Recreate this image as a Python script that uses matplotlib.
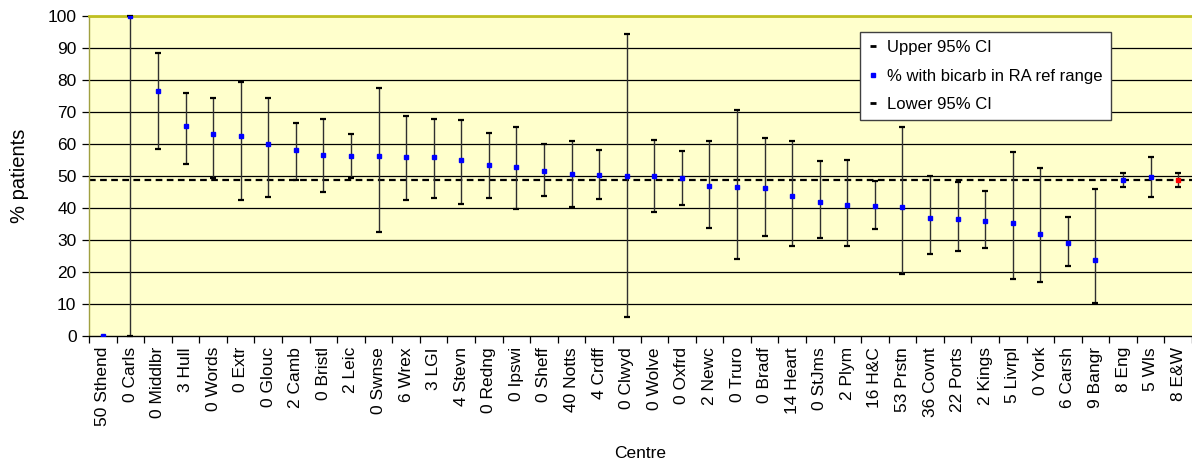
import matplotlib
matplotlib.use("Agg")
import matplotlib.pyplot as plt
from matplotlib.lines import Line2D

plt.rcParams['font.family'] = ['Liberation Sans', 'DejaVu Sans']

centres = ["50 Sthend", "0 Carls", "0 Middlbr", "3 Hull", "0 Words", "0 Extr", "0 Glouc",
           "2 Camb", "0 Bristl", "2 Leic", "0 Swnse", "6 Wrex", "3 LGI", "4 Stevn",
           "0 Redng", "0 Ipswi", "0 Sheff", "40 Notts", "4 Crdff", "0 Clwyd", "0 Wolve",
           "0 Oxfrd", "2 Newc", "0 Truro", "0 Bradf", "14 Heart", "0 StJms", "2 Plym",
           "16 H&C", "53 Prstn", "36 Covnt", "22 Ports", "2 Kings", "5 Livrpl", "0 York",
           "6 Carsh", "9 Bangr", "8 Eng", "5 Wls", "8 E&W"]
pct = [0, 100, 76.7, 65.6, 63.0, 62.4, 59.9, 58.0, 56.7, 56.4, 56.4, 55.9, 55.9, 54.9,
       53.4, 52.7, 51.7, 50.6, 50.2, 49.9, 49.9, 49.3, 47.0, 46.7, 46.2, 43.8, 42.0, 40.9,
       40.5, 40.2, 37.0, 36.6, 35.9, 35.2, 32.0, 29.1, 23.6, 48.9, 49.6, 48.9]
upper = [0, 100, 88.5, 76.0, 74.5, 79.3, 74.5, 66.7, 67.8, 63.1, 77.4, 68.9, 67.8, 67.4,
         63.5, 65.3, 59.9, 60.9, 58.1, 94.3, 61.4, 57.7, 60.9, 70.7, 61.8, 60.9, 54.6, 54.9,
         48.5, 65.3, 50.0, 48.1, 45.2, 57.4, 52.4, 37.3, 45.9, 51.0, 55.9, 51.0]
lower = [0, 0, 58.4, 53.8, 49.5, 42.4, 43.4, 48.8, 44.9, 49.5, 32.4, 42.4, 43.0, 41.2,
         43.0, 39.8, 43.8, 40.2, 42.7, 5.8, 38.8, 40.9, 33.8, 24.1, 31.2, 28.0, 30.5, 28.0,
         33.4, 19.5, 25.5, 26.7, 27.4, 17.7, 17.0, 22.0, 10.4, 46.7, 43.4, 46.7]
overall = 48.8
yticks = list(range(0, 101, 10))

fig = plt.figure(figsize=(11.92, 4.62), dpi=100)
ax = fig.add_axes([89/1192, 1-336/462, 1-89/1192, (336-16)/462])
ax.set_facecolor('#FFFFCC')

x = list(range(len(centres)))
ax.set_xlim(-0.5, len(centres)-0.5)
ax.set_ylim(0, 100)

for v in yticks[1:]:
    ax.axhline(v, color='black', lw=0.9, zorder=1)

ax.axhline(overall, color='black', lw=1.6, ls=(0, (3, 2)), zorder=2)

for i in x:
    ax.vlines(i, lower[i], upper[i], color='#303030', lw=1.0, zorder=3)
    if upper[i] != lower[i]:
        ax.plot([i], [upper[i]], marker='_', ms=4.5, mew=1.6, color='black', zorder=4, clip_on=False)
        ax.plot([i], [lower[i]], marker='_', ms=4.5, mew=1.6, color='black', zorder=4, clip_on=False)

colors = ['#0000FF'] * (len(centres)-1) + ['#FF0000']
for i in x:
    ax.plot([i], [pct[i]], marker='s', ms=3.4, color=colors[i], mec=colors[i], ls='none', zorder=5)

ax.set_yticks(yticks)
ax.set_yticklabels([str(v) for v in yticks], fontsize=12.5)
ax.set_xticks(x)
ax.set_xticklabels(centres, rotation=90, fontsize=12.5)
ax.set_xticks([i + 0.5 for i in range(-1, len(centres))], minor=True)
ax.tick_params(axis='x', which='major', length=0, pad=8)
ax.tick_params(axis='x', which='minor', length=5, direction='out', width=0.9)
ax.tick_params(axis='y', length=5, direction='out', width=0.9, pad=4)

ax.spines['right'].set_visible(False)
ax.spines['top'].set_color('#C0C020')
ax.spines['top'].set_linewidth(2)
ax.spines['left'].set_color('#A0A040')
ax.spines['left'].set_linewidth(1)
ax.spines['bottom'].set_color('black')
ax.spines['bottom'].set_linewidth(1)

ax.set_ylabel('% patients', fontsize=14.5, labelpad=13)
ax.set_xlabel('Centre', fontsize=12.5, labelpad=14)

handles = [
    Line2D([], [], marker='_', ms=5, mew=2, color='black', ls='none'),
    Line2D([], [], marker='s', ms=3.5, color='#0000FF', ls='none'),
    Line2D([], [], marker='_', ms=5, mew=2, color='black', ls='none'),
]
leg = ax.legend(handles, ['Upper 95% CI', '% with bicarb in RA ref range', 'Lower 95% CI'],
                loc='upper left', bbox_to_anchor=((860-89)/1103, (336-32)/320),
                frameon=True, fancybox=False, framealpha=1, edgecolor='#404040',
                fontsize=12, handlelength=0.6, handletextpad=0.5, borderpad=0.5,
                labelspacing=0.8, borderaxespad=0)
leg.get_frame().set_linewidth(1.0)

fig.savefig('out.png', dpi=100)
